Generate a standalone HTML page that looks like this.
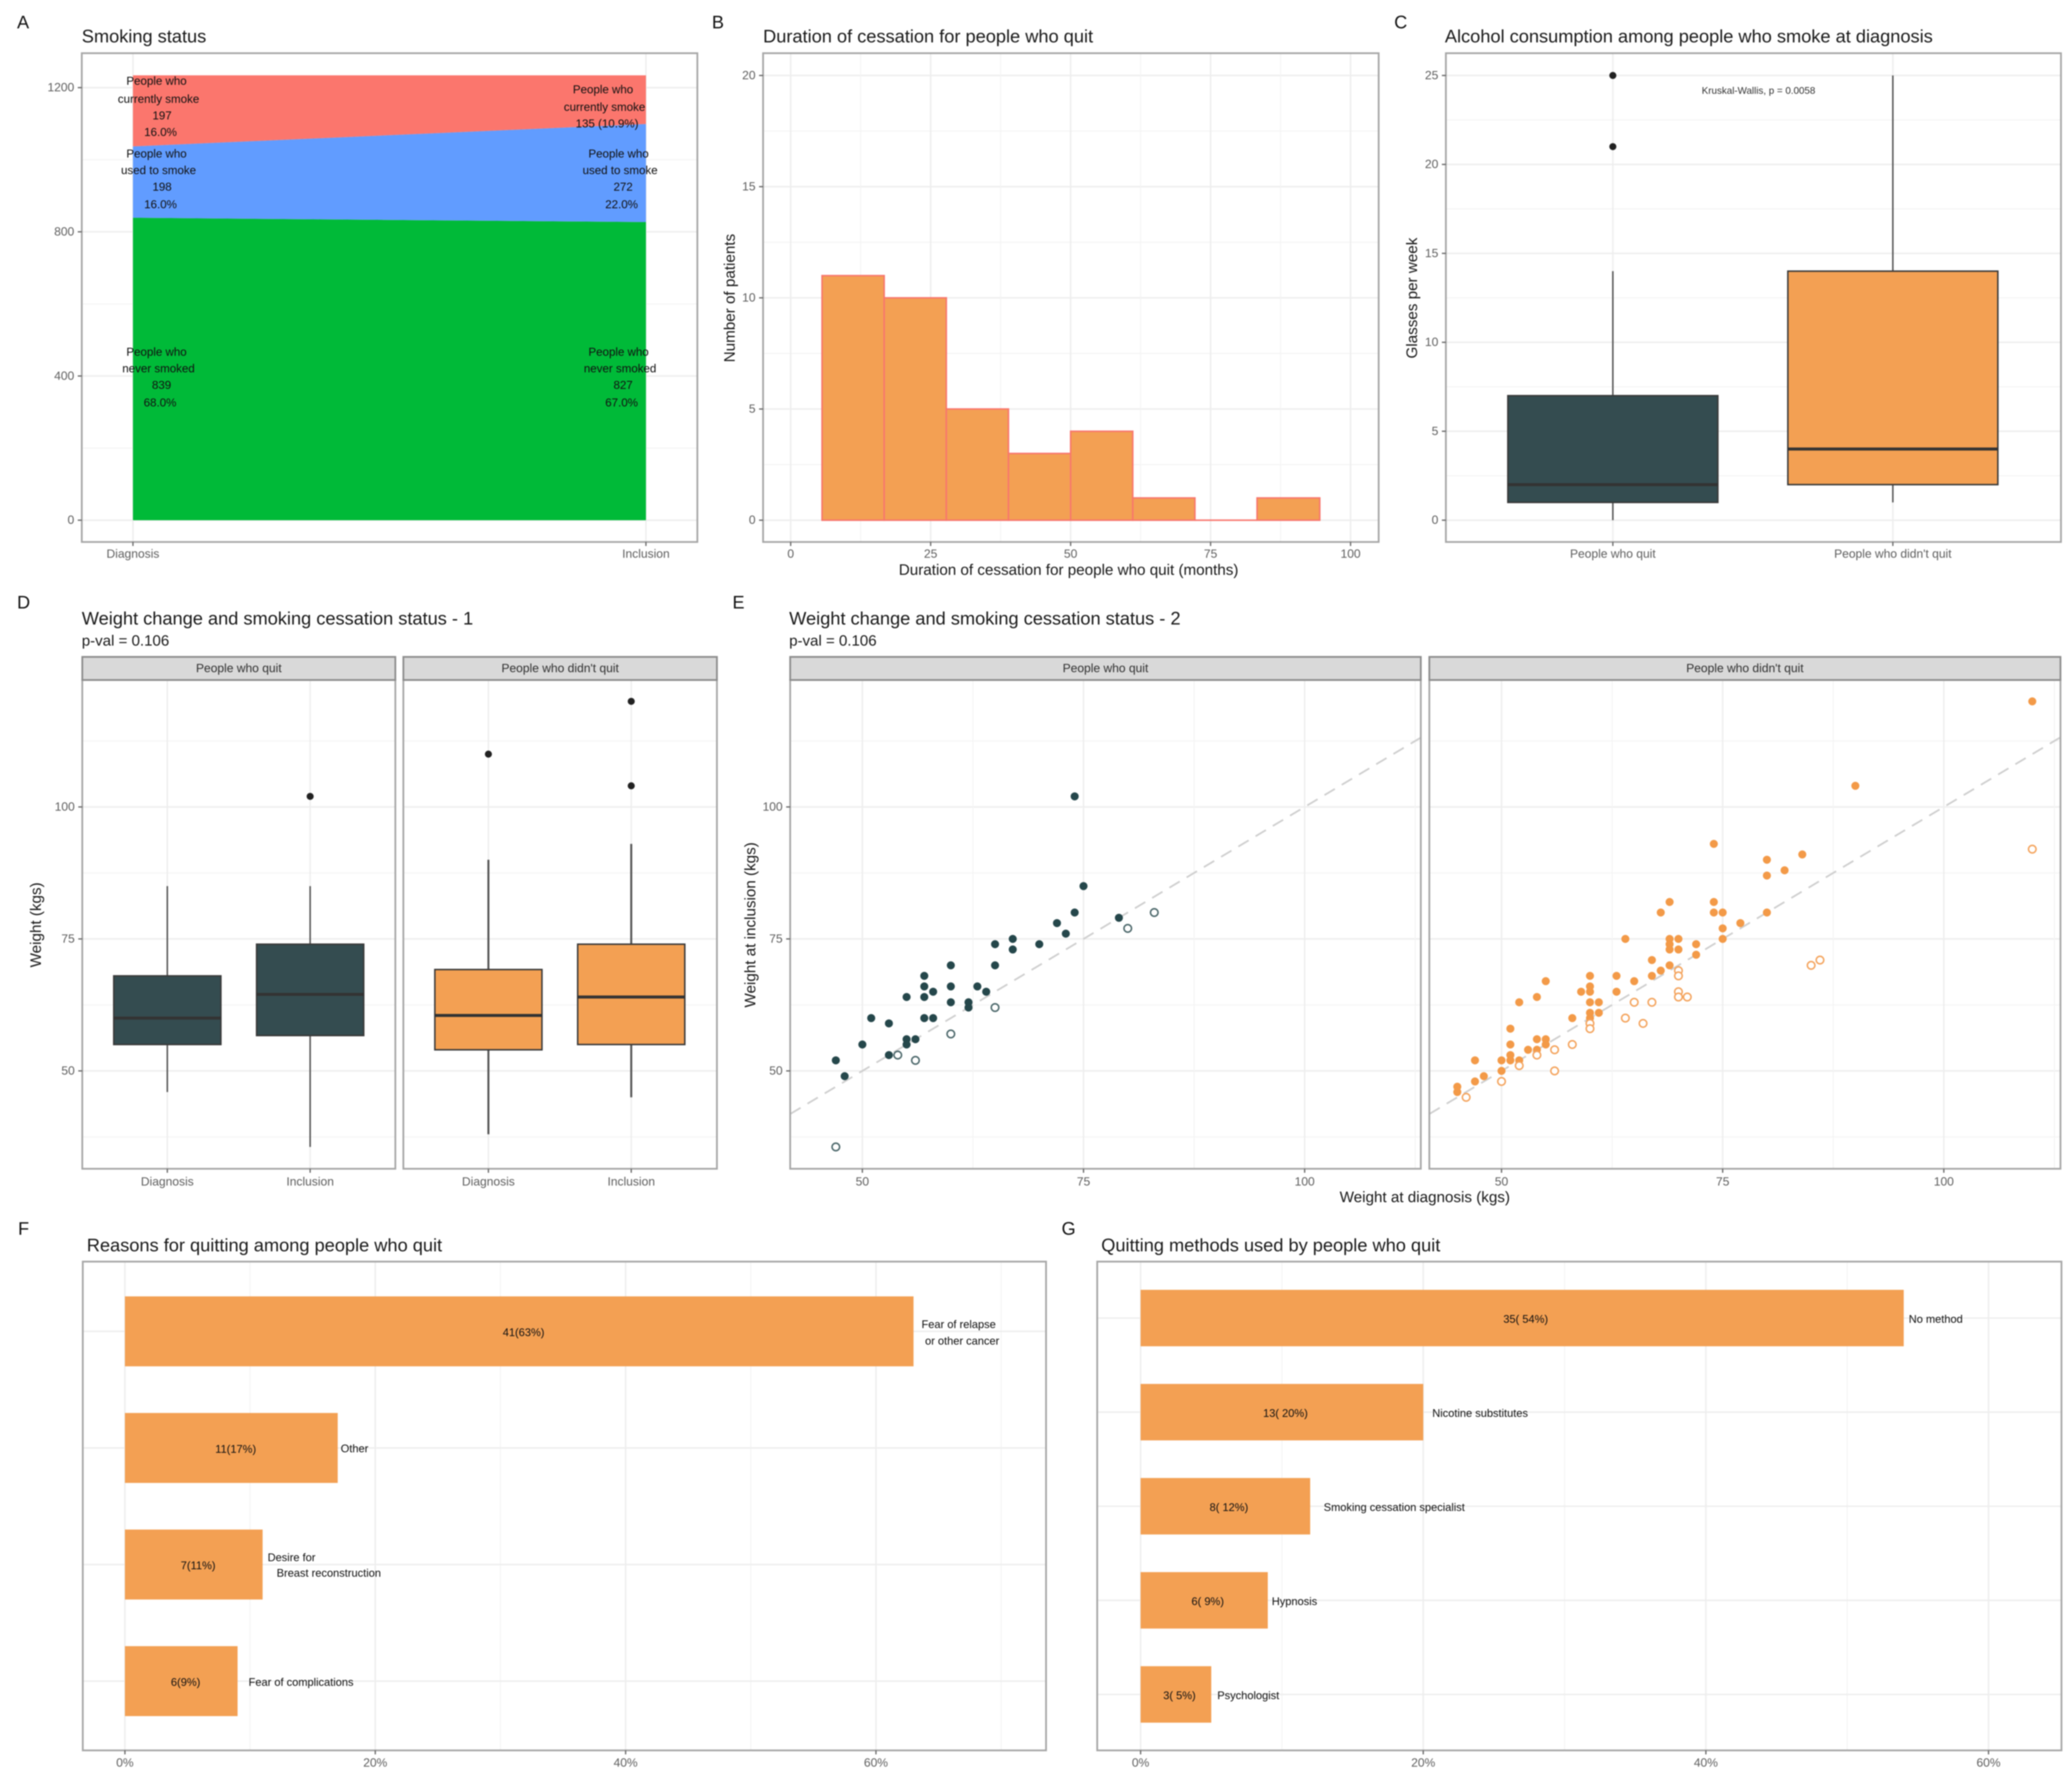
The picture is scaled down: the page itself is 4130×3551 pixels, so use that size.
<!DOCTYPE html>
<html lang="en">
<head>
<meta charset="utf-8">
<title>Smoking status and cessation figure</title>
<style>
html,body{margin:0;padding:0;background:#fff;overflow:hidden;}
svg{display:block;font-family:"Liberation Sans",Arial,sans-serif;filter:blur(1px);}
.letter{font-size:36px;fill:#111;dominant-baseline:central;}
.title{font-size:36.3px;fill:#1a1a1a;dominant-baseline:central;}
.subtitle{font-size:30px;fill:#1a1a1a;dominant-baseline:central;}
.axis-title{font-size:30.3px;fill:#1a1a1a;text-anchor:middle;dominant-baseline:central;}
.note{font-size:23px;fill:#111;text-anchor:middle;dominant-baseline:central;}
.small{font-size:22px;fill:#111;dominant-baseline:central;}
.tick{font-size:24px;fill:#606060;dominant-baseline:central;}
.strip{font-size:24px;fill:#333;text-anchor:middle;dominant-baseline:central;}
</style>
</head>
<body>
<svg id="figure" xmlns="http://www.w3.org/2000/svg" width="4130" height="3551" viewBox="0 0 4130 3551">
  <rect x="0" y="0" width="4130" height="3551" fill="#ffffff"/>

  <g id="panel-a"></g>
  <g>
    <text class="note" x="312" y="161">People who</text>
    <text class="note" x="316" y="197">currently smoke</text>
    <text class="note" x="323" y="230">197</text>
    <text class="note" x="320" y="263">16.0%</text>
    <text class="note" x="312" y="306">People who</text>
    <text class="note" x="316" y="339">used to smoke</text>
    <text class="note" x="323" y="372">198</text>
    <text class="note" x="320" y="407">16.0%</text>
    <text class="note" x="312" y="701">People who</text>
    <text class="note" x="316" y="734">never smoked</text>
    <text class="note" x="322" y="767">839</text>
    <text class="note" x="319" y="802">68.0%</text>
    <text class="note" x="1202" y="178">People who</text>
    <text class="note" x="1205" y="213">currently smoke</text>
    <text class="note" x="1210" y="246">135 (10.9%)</text>
    <text class="note" x="1233" y="306">People who</text>
    <text class="note" x="1236" y="339">used to smoke</text>
    <text class="note" x="1242" y="372">272</text>
    <text class="note" x="1239" y="407">22.0%</text>
    <text class="note" x="1233" y="701">People who</text>
    <text class="note" x="1236" y="734">never smoked</text>
    <text class="note" x="1242" y="767">827</text>
    <text class="note" x="1239" y="802">67.0%</text>
  </g>
  <g id="panel-b"></g>
  <g id="panel-c"></g>
  <g id="panel-d"></g>
  <g id="panel-e"></g>
  <g id="panel-f"></g>
  <g id="panel-g"></g>

  <text class="letter" x="34" y="44">A</text>
  <text class="letter" x="1419" y="44">B</text>
  <text class="letter" x="2779" y="44">C</text>
  <text class="letter" x="34" y="1200">D</text>
  <text class="letter" x="1460" y="1200">E</text>
  <text class="letter" x="36" y="2448">F</text>
  <text class="letter" x="2116" y="2448">G</text>

  <text class="title" x="163" y="72">Smoking status</text>
  <text class="title" x="1521" y="72">Duration of cessation for people who quit</text>
  <text class="title" x="2880" y="72">Alcohol consumption among people who smoke at diagnosis</text>
  <text class="title" x="163" y="1232">Weight change and smoking cessation status - 1</text>
  <text class="subtitle" x="163" y="1277">p-val = 0.106</text>
  <text class="title" x="1573" y="1232">Weight change and smoking cessation status - 2</text>
  <text class="subtitle" x="1573" y="1277">p-val = 0.106</text>
  <text class="title" x="173" y="2481">Reasons for quitting among people who quit</text>
  <text class="title" x="2195" y="2481">Quitting methods used by people who quit</text>

  <text class="axis-title" x="2130" y="1136">Duration of cessation for people who quit (months)</text>
  <text class="axis-title" transform="translate(1455 594) rotate(-90)">Number of patients</text>
  <text class="axis-title" transform="translate(2815 594) rotate(-90)">Glasses per week</text>
  <text class="axis-title" transform="translate(72 1843) rotate(-90)">Weight (kgs)</text>
  <text class="axis-title" transform="translate(1496 1843) rotate(-90)">Weight at inclusion (kgs)</text>
  <text class="axis-title" x="2840" y="2386">Weight at diagnosis (kgs)</text>
  <text x="3392" y="181" font-size="19.5" fill="#333" dominant-baseline="central">Kruskal-Wallis, p = 0.0058</text>
</svg>

<script>
/* ---------- Panel A data ---------- */
const stageLabels = ['Diagnosis', 'Inclusion'];
const neverSmoked = [839, 827];
const usedToSmoke = [198, 272];
const currentlySmoke = [197, 135];
const stackTicks = [0, 400, 800, 1200];
const stackMinorTicks = [200, 600, 1000];

/* ---------- Panel B data ---------- */
const histEdges = [5.6, 16.7, 27.8, 38.9, 50, 61.1, 72.2, 83.3, 94.5];
const histCounts = [11, 10, 5, 3, 4, 1, 0, 1];
const durationTicks = [0, 25, 50, 75, 100];
const durationMinorTicks = [12.5, 37.5, 62.5, 87.5];
const patientTicks = [0, 5, 10, 15, 20];
const patientMinorTicks = [2.5, 7.5, 12.5, 17.5];

/* ---------- Panel C data ---------- */
const alcoholGroups = ['People who quit', "People who didn't quit"];
const alcoholLow = [0, 1];
const alcoholQ1 = [1, 2];
const alcoholMedian = [2, 4];
const alcoholQ3 = [7, 14];
const alcoholHigh = [14, 25];
const alcoholOutliers = [[21, 25], []];
const glassTicks = [0, 5, 10, 15, 20, 25];
const glassMinorTicks = [2.5, 7.5, 12.5, 17.5, 22.5];

/* ---------- Panel D data ---------- */
const facetGroups = ['People who quit', "People who didn't quit"];
const weightLow = [[46, 35.6], [38, 45]];
const weightQ1 = [[55, 56.7], [54, 55]];
const weightMedian = [[60, 64.5], [60.5, 64]];
const weightQ3 = [[68, 74], [69.2, 74]];
const weightHigh = [[85, 85], [90, 93]];
const weightOutliers = [[[], [102]], [[110], [104, 120]]];
const weightTicks = [50, 75, 100];
const weightMinorTicks = [37.5, 62.5, 87.5, 112.5];

/* ---------- Panel E data ---------- */
const quitGainDiagnosis = [47,48,50,51,53,53,55,55,55,56,57,57,57,57,58,58,60,60,60,62,62,63,64,65,65,67,67,70,72,73,74,74,75,79];
const quitGainInclusion = [52,49,55,60,59,53,64,56,55,56,68,66,64,60,65,60,70,66,63,63,62,66,65,74,70,75,73,74,78,76,102,80,85,79];
const quitLossDiagnosis = [47,54,56,60,65,80,83];
const quitLossInclusion = [35.6,53,52,57,62,77,80];
const stayGainDiagnosis = [45,45,47,47,48,50,50,51,51,51,51,52,52,53,54,54,54,55,55,55,58,59,60,60,60,60,60,60,61,61,63,63,64,65,67,67,68,68,69,69,69,69,69,70,70,72,72,74,74,74,75,75,75,77,80,80,80,82,84,90,110];
const stayGainInclusion = [47,46,52,48,49,52,50,58,55,53,52,63,52,54,64,56,54,67,56,55,60,65,68,66,65,63,61,60,63,61,68,65,75,67,71,68,80,69,82,75,74,73,70,75,73,74,72,93,82,80,80,77,75,78,90,87,80,88,91,104,120];
const stayLossDiagnosis = [46,50,52,54,56,56,58,60,60,64,65,66,67,70,70,70,70,71,85,86,110];
const stayLossInclusion = [45,48,51,53,54,50,55,59,58,60,63,59,63,69,68,65,64,64,70,71,92];
const scatterXTicks = [50, 75, 100];
const scatterXMinorTicks = [62.5, 87.5, 112.5];

/* ---------- Panel F data ---------- */
const reasonCounts = [41, 11, 7, 6];
const reasonPercents = [63, 17, 11, 9];
const reasonNames = [['Fear of relapse', 'or other cancer'], ['Other'], ['Desire for', 'Breast reconstruction'], ['Fear of complications']];
const reasonTicks = [0, 20, 40, 60];
const reasonMinorTicks = [10, 30, 50, 70];

/* ---------- Panel G data ---------- */
const methodCounts = [35, 13, 8, 6, 3];
const methodPercents = [54, 20, 12, 9, 5];
const methodNames = ['No method', 'Nicotine substitutes', 'Smoking cessation specialist', 'Hypnosis', 'Psychologist'];
const methodTicks = [0, 20, 40, 60];
const methodMinorTicks = [10, 30, 50];

/* ---------- Shared colours ---------- */
const ORANGE = '#F3A053';
const TEAL = '#344C50';
const DOT_TEAL = '#25474B';
const DOT_ORANGE = '#F39A48';

const SVGNS = 'http://www.w3.org/2000/svg';
function make(parent, tag, attrs, text) {
  const node = document.createElementNS(SVGNS, tag);
  for (const k in attrs) node.setAttribute(k, attrs[k]);
  if (text !== undefined) node.textContent = text;
  parent.appendChild(node);
  return node;
}
function linear(d0, d1, r0, r1) {
  return function (v) { return r0 + (v - d0) * (r1 - r0) / (d1 - d0); };
}
function gridX(g, P, xs, major, minor) {
  minor.forEach(function (v) {
    const el = make(g, 'line', {x1: xs(v), x2: xs(v), y1: P.t, y2: P.b, stroke: '#f4f4f4', 'stroke-width': 2});
    
    
  });
  major.forEach(function (v) {
    const el = make(g, 'line', {x1: xs(v), x2: xs(v), y1: P.t, y2: P.b, stroke: '#eeeeee', 'stroke-width': 3});
    
    
  });
}
function gridY(g, P, ys, major, minor) {
  minor.forEach(function (v) {
    const el = make(g, 'line', {x1: P.l, x2: P.r, y1: ys(v), y2: ys(v), stroke: '#f4f4f4', 'stroke-width': 2});
    
    
  });
  major.forEach(function (v) {
    const el = make(g, 'line', {x1: P.l, x2: P.r, y1: ys(v), y2: ys(v), stroke: '#eeeeee', 'stroke-width': 3});
    
    
  });
}
function axisX(g, P, xs, values, labels, labelY) {
  values.forEach(function (v, i) {
    const tick = make(g, 'line', {x1: xs(v), x2: xs(v), y1: P.b, y2: P.b + 8, stroke: '#666', 'stroke-width': 2.5});
    
    
    const label = make(g, 'text', {x: xs(v), y: labelY, class: 'tick', 'text-anchor': 'middle'}, labels[i]);
    
    
  });
}
function axisY(g, P, ys, values) {
  values.forEach(function (v) {
    const tick = make(g, 'line', {x1: P.l - 8, x2: P.l, y1: ys(v), y2: ys(v), stroke: '#666', 'stroke-width': 2.5});
    
    
    const label = make(g, 'text', {x: P.l - 15, y: ys(v), class: 'tick', 'text-anchor': 'end'}, String(v));
    
    
  });
}
function border(g, P) {
  const el = make(g, 'rect', {x: P.l, y: P.t, width: P.r - P.l, height: P.b - P.t, fill: 'none', stroke: '#a6a6a6', 'stroke-width': 3.5});
  
  
}
function strip(g, P, top, label) {
  const box = make(g, 'rect', {x: P.l, y: top, width: P.r - P.l, height: P.t - top, fill: '#d9d9d9', stroke: '#8c8c8c', 'stroke-width': 3.5});
  
  
  const text = make(g, 'text', {x: (P.l + P.r) / 2, y: (top + P.t) / 2, class: 'strip'}, label);
  
  
}
function boxplot(g, xc, halfW, ys, low, q1, med, q3, high, outliers, fill, whiskerWidth) {
  const lower = make(g, 'line', {x1: xc, x2: xc, y1: ys(q1), y2: ys(low), stroke: '#555', 'stroke-width': whiskerWidth});
  
  
  const upper = make(g, 'line', {x1: xc, x2: xc, y1: ys(q3), y2: ys(high), stroke: '#555', 'stroke-width': whiskerWidth});
  
  
  const body = make(g, 'rect', {x: xc - halfW, y: ys(q3), width: 2 * halfW, height: ys(q1) - ys(q3), fill: fill, stroke: '#3a3a3a', 'stroke-width': 3});
  
  
  const median = make(g, 'line', {x1: xc - halfW, x2: xc + halfW, y1: ys(med), y2: ys(med), stroke: '#333', 'stroke-width': 6});
  
  
  outliers.forEach(function (v) {
    const dot = make(g, 'circle', {cx: xc, cy: ys(v), r: 7, fill: '#222'});
    
    
  });
}

/* ---------- Panel A ---------- */
(function () {
  const g = document.getElementById('panel-a');
  const P = {l: 163, r: 1390, t: 106, b: 1080};
  const xs = linear(0, 1, 265, 1287.5);
  const ys = linear(0, 1200, 1036.6, 174.6);
  gridY(g, P, ys, stackTicks, stackMinorTicks);
  gridX(g, P, xs, [0, 1], []);
  function band(lower, upper, color) {
    const d = 'M' + xs(0) + ' ' + ys(lower[0]) + 'L' + xs(1) + ' ' + ys(lower[1]) + 'L' + xs(1) + ' ' + ys(upper[1]) + 'L' + xs(0) + ' ' + ys(upper[0]) + 'Z';
    return make(g, 'path', {d: d, fill: color});
  }
  const zero = stageLabels.map(function () { return 0; });
  const topNever = neverSmoked.slice();
  const topUsed = neverSmoked.map(function (v, i) { return v + usedToSmoke[i]; });
  const topCurrent = topUsed.map(function (v, i) { return v + currentlySmoke[i]; });
  const a1 = band(zero, topNever, '#00BA38');
  
  
  const a2 = band(topNever, topUsed, '#619CFF');
  
  
  const a3 = band(topUsed, topCurrent, '#FB766D');
  
  
  border(g, P);
  axisY(g, P, ys, stackTicks);
  axisX(g, P, xs, [0, 1], stageLabels, 1104);
})();

/* ---------- Panel B ---------- */
(function () {
  const g = document.getElementById('panel-b');
  const P = {l: 1521, r: 2748, t: 106, b: 1080};
  const xs = linear(0, 100, 1576, 2692);
  const ys = linear(0, 20, 1036.6, 150.4);
  gridY(g, P, ys, patientTicks, patientMinorTicks);
  gridX(g, P, xs, durationTicks, durationMinorTicks);
  histCounts.forEach(function (c, i) {
    const x0 = xs(histEdges[i]), x1 = xs(histEdges[i + 1]);
    const d = 'M' + x0 + ' ' + ys(0) + 'L' + x0 + ' ' + ys(c) + 'L' + x1 + ' ' + ys(c) + 'L' + x1 + ' ' + ys(0) + 'Z';
    const bar = make(g, 'path', {d: d, fill: ORANGE, stroke: '#F8766D', 'stroke-width': 3});
    
    
  });
  border(g, P);
  axisY(g, P, ys, patientTicks);
  axisX(g, P, xs, durationTicks, durationTicks.map(String), 1104);
})();

/* ---------- Panel C ---------- */
(function () {
  const g = document.getElementById('panel-c');
  const P = {l: 2882, r: 4108, t: 106, b: 1080};
  const xs = linear(0, 1, 3214.8, 3772.9);
  const ys = linear(0, 25, 1036.6, 150.4);
  gridY(g, P, ys, glassTicks, glassMinorTicks);
  gridX(g, P, xs, [0, 1], []);
  const halfW = (xs(1) - xs(0)) * 0.375;
  const fills = [TEAL, ORANGE];
  alcoholGroups.forEach(function (name, i) {
    boxplot(g, xs(i), halfW, ys, alcoholLow[i], alcoholQ1[i], alcoholMedian[i], alcoholQ3[i], alcoholHigh[i], alcoholOutliers[i], fills[i], 3);
  });
  border(g, P);
  axisY(g, P, ys, glassTicks);
  axisX(g, P, xs, [0, 1], alcoholGroups, 1104);
})();

/* ---------- Panel D ---------- */
(function () {
  const g = document.getElementById('panel-d');
  const panels = [{l: 164, r: 788, t: 1355, b: 2329}, {l: 804, r: 1429, t: 1355, b: 2329}];
  const ys = linear(50, 100, 2134, 1608);
  const fills = [TEAL, ORANGE];
  facetGroups.forEach(function (name, f) {
    const P = panels[f];
    const xs = linear(0, 1, P.l + 169.5, P.l + 454.2);
    gridY(g, P, ys, weightTicks, weightMinorTicks);
    gridX(g, P, xs, [0, 1], []);
    const halfW = (xs(1) - xs(0)) * 0.375;
    stageLabels.forEach(function (s, i) {
      boxplot(g, xs(i), halfW, ys, weightLow[f][i], weightQ1[f][i], weightMedian[f][i], weightQ3[f][i], weightHigh[f][i], weightOutliers[f][i], fills[f], f === 0 ? 3 : 4);
    });
    border(g, P);
    strip(g, P, 1309, name);
    if (f === 0) axisY(g, P, ys, weightTicks);
    axisX(g, P, xs, [0, 1], stageLabels, 2355);
  });
})();

/* ---------- Panel E ---------- */
(function () {
  const g = document.getElementById('panel-e');
  const panels = [{l: 1575, r: 2832, t: 1355, b: 2329}, {l: 2849, r: 4107, t: 1355, b: 2329}];
  const ys = linear(50, 100, 2134, 1608);
  const axisLow = 41.85, axisHigh = 113.1;
  const series = [
    {gainX: quitGainDiagnosis, gainY: quitGainInclusion, lossX: quitLossDiagnosis, lossY: quitLossInclusion, dot: DOT_TEAL, ring: '#4A6669'},
    {gainX: stayGainDiagnosis, gainY: stayGainInclusion, lossX: stayLossDiagnosis, lossY: stayLossInclusion, dot: DOT_ORANGE, ring: '#F4A35C'}
  ];
  facetGroups.forEach(function (name, f) {
    const P = panels[f];
    const xs = linear(50, 100, P.l + 143.9, P.l + 1025.5);
    const S = series[f];
    gridY(g, P, ys, weightTicks, weightMinorTicks);
    gridX(g, P, xs, scatterXTicks, scatterXMinorTicks);
    const ref = make(g, 'line', {x1: xs(axisLow), y1: ys(axisLow), x2: xs(axisHigh), y2: ys(axisHigh), stroke: '#cfcfcf', 'stroke-width': 3.5, 'stroke-dasharray': '24 16'});
    
    
    S.gainX.forEach(function (x, i) {
      const dot = make(g, 'circle', {cx: xs(x), cy: ys(S.gainY[i]), r: 8, fill: S.dot});
      
      
    });
    S.lossX.forEach(function (x, i) {
      const dot = make(g, 'circle', {cx: xs(x), cy: ys(S.lossY[i]), r: 7.5, fill: '#fff', stroke: S.ring, 'stroke-width': 3});
      
      
    });
    border(g, P);
    strip(g, P, 1309, name);
    if (f === 0) axisY(g, P, ys, weightTicks);
    axisX(g, P, xs, scatterXTicks, scatterXTicks.map(String), 2355);
  });
})();

/* ---------- Panel F ---------- */
(function () {
  const g = document.getElementById('panel-f');
  const P = {l: 165, r: 2085, t: 2514, b: 3488};
  const xs = linear(0, 60, 249, 1746);
  const ys = linear(0, 3, 2653, 3350);
  const bandUnit = ys(1) - ys(0);
  gridX(g, P, xs, reasonTicks, reasonMinorTicks);
  gridY(g, P, ys, reasonCounts.map(function (_, i) { return i; }), []);
  reasonCounts.forEach(function (n, i) {
    const bar = make(g, 'rect', {x: xs(0), y: ys(i) - bandUnit * 0.3, width: xs(reasonPercents[i]) - xs(0), height: bandUnit * 0.6, fill: ORANGE});
    
    
    const value = make(g, 'text', {x: xs(reasonPercents[i] / 2 + 0.35), y: ys(i) + 2, class: 'small', 'text-anchor': 'middle'}, n + '(' + reasonPercents[i] + '%)');
    
    
  });
  function side(i, line, dx, dy) {
    const el = make(g, 'text', {x: xs(reasonPercents[i]) + dx, y: ys(i) + dy, class: 'small'}, reasonNames[i][line]);
    
    
  }
  side(0, 0, 16, -14);
  side(0, 1, 23, 19);
  side(1, 0, 6, 1);
  side(2, 0, 10, -14);
  side(2, 1, 28, 17);
  side(3, 0, 22, 2);
  border(g, P);
  axisX(g, P, xs, reasonTicks, reasonTicks.map(function (v) { return v + '%'; }), 3513);
})();

/* ---------- Panel G ---------- */
(function () {
  const g = document.getElementById('panel-g');
  const P = {l: 2187, r: 4109, t: 2514, b: 3488};
  const xs = linear(0, 60, 2273.5, 3963.6);
  const ys = linear(0, 4, 2626.5, 3376.5);
  const bandUnit = ys(1) - ys(0);
  const gaps = [10, 18, 27, 8, 12];
  gridX(g, P, xs, methodTicks, methodMinorTicks);
  gridY(g, P, ys, methodCounts.map(function (_, i) { return i; }), []);
  methodCounts.forEach(function (n, i) {
    const bar = make(g, 'rect', {x: xs(0), y: ys(i) - bandUnit * 0.3, width: xs(methodPercents[i]) - xs(0), height: bandUnit * 0.6, fill: ORANGE});
    
    
    const value = make(g, 'text', {x: xs(methodPercents[i] / 2 + 0.25), y: ys(i) + 2, class: 'small', 'text-anchor': 'middle'}, n + '( ' + methodPercents[i] + '%)');
    
    
    const label = make(g, 'text', {x: xs(methodPercents[i]) + gaps[i], y: ys(i) + 2, class: 'small'}, methodNames[i]);
    
    
  });
  border(g, P);
  axisX(g, P, xs, methodTicks, methodTicks.map(function (v) { return v + '%'; }), 3513);
})();
</script>
</body>
</html>
